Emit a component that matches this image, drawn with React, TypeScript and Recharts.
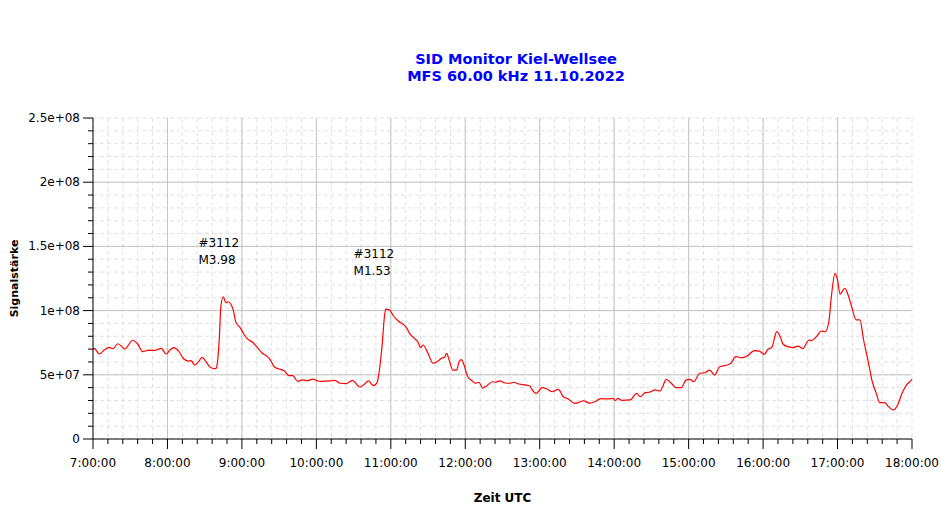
import { CartesianGrid, Label, Line, LineChart, ReferenceDot, XAxis, YAxis } from 'recharts';

// Time in minutes since midnight (UTC), signal in units of 1e6
const times = [
  420, 421, 425, 429, 433, 436, 440, 446, 448, 452,
  456, 460, 464, 470, 475, 479, 482, 485, 489, 493,
  497, 499, 502, 505, 508, 511, 515, 519, 520, 522,
  523, 525, 527, 529, 531, 533, 535, 539, 542, 545,
  549, 553, 556, 560, 563, 566, 570, 574, 578, 581,
  585, 589, 593, 597, 601, 603, 611, 615, 619, 624,
  629, 635, 638, 642, 646, 649, 650, 653, 655, 656,
  659, 662, 666, 673, 675, 679, 682, 684, 686, 690,
  694, 698, 702, 703, 705, 707, 710, 713, 715, 717,
  719, 722, 725, 728, 731, 734, 737, 742, 744, 748,
  752, 756, 759, 763, 768, 772, 774, 777, 782, 786,
  790, 795, 799, 803, 808, 811, 815, 820, 824, 829,
  835, 839, 841, 843, 846, 853, 858, 861, 865, 869,
  873, 877, 879, 882, 886, 890, 894, 898, 901, 904,
  909, 913, 917, 921, 925, 931, 934, 938, 943, 947,
  953, 957, 961, 964, 967, 971, 974, 976, 980, 984,
  988, 992, 997, 999, 1003, 1007, 1010, 1013, 1015, 1018,
  1020, 1022, 1026, 1028, 1031, 1035, 1038, 1041, 1045, 1048,
  1051, 1054, 1058, 1061, 1065, 1068, 1072, 1075, 1079, 1080,
];

const signal = [
  70, 70.6, 66.2, 69.3, 71.4, 70.3, 74.2, 70.1, 72.4, 76.9,
  74.0, 68.0, 69.1, 69.1, 70.6, 66.2, 69.3, 71.1, 68.5, 62.5,
  60.7, 61.0, 57.6, 60.2, 63.6, 60.2, 55.5, 54.8, 57.6, 82.3,
  103.0, 110.8, 106.2, 106.9, 105.1, 100.5, 91.4, 86.2, 81.0, 77.6,
  75.0, 70.6, 67.2, 64.6, 61.5, 56.3, 54.5, 53.2, 49.3, 49.3,
  44.9, 46.0, 45.4, 46.7, 45.2, 44.9, 45.2, 45.7, 43.4, 43.1,
  45.7, 40.5, 42.1, 45.2, 41.5, 44.2, 48.5, 73.2, 96.6, 101.2,
  100.5, 96.0, 91.9, 86.2, 82.3, 78.4, 75.3, 71.1, 73.2, 66.7,
  59.0, 60.7, 63.3, 63.3, 66.7, 61.5, 53.7, 53.7, 60.2, 61.8,
  57.6, 48.5, 45.7, 43.4, 44.2, 39.7, 41.3, 44.6, 44.2, 45.2,
  43.6, 43.4, 44.2, 42.8, 42.1, 41.3, 38.2, 35.3, 40.0, 38.9,
  36.8, 38.7, 32.9, 31.2, 27.8, 28.3, 29.8, 28.0, 28.8, 31.4,
  31.2, 31.7, 29.8, 31.7, 30.1, 30.4, 35.6, 32.9, 36.1, 36.6,
  38.2, 37.4, 40.7, 46.5, 43.4, 40.0, 40.0, 46.0, 46.5, 44.6,
  51.2, 51.6, 53.7, 49.8, 56.3, 57.6, 59.0, 64.1, 63.3, 64.6,
  68.8, 68.5, 65.9, 69.9, 71.4, 83.6, 79.2, 74.0, 71.9, 71.1,
  72.4, 70.6, 77.1, 76.6, 79.7, 84.1, 83.6, 91.4, 110.8, 129.0,
  123.8, 112.9, 117.4, 113.5, 104.4, 92.7, 92.7, 77.1, 59.0, 44.6,
  36.1, 28.3, 28.3, 25.2, 22.6, 25.7, 35.6, 41.3, 45.4, 46.5,
];

// flare annotations: time of label, level of first text line
const flareTimes = [505, 630];
const flareLevels = [153, 144];
const flareIds = ['#3112', '#3112'];
const flareClasses = ['M3.98', 'M1.53'];

const timeTicks = Array.from({ length: 56 }, (_, i) => 420 + i * 12);
const levelTicks = Array.from({ length: 26 }, (_, i) => i * 10);
const majorLevels = [50, 100, 150, 200];
const majorTimes = [480, 540, 600, 660, 720, 780, 840, 900, 960, 1020];

const FONT = '"DejaVu Sans", sans-serif';

const data = times.map((t, i) => ({ t, v: signal[i] }));

function fmtTime(m: number) {
  return `${Math.floor(m / 60)}:${String(m % 60).padStart(2, '0')}:00`;
}

function fmtLevel(v: number) {
  if (v === 0) return '0';
  return (v * 1e6).toExponential().replace(/e\+(\d)$/, 'e+0$1');
}

function TimeTick({ x, y, payload }: any) {
  const major = payload.value % 60 === 0;
  return (
    <g>
      <line x1={x} x2={x} y1={y} y2={y + (major ? 10 : 5)} stroke="#000" />
      {major && (
        <text x={x} y={y + 28} textAnchor="middle" fontSize={12} fontFamily={FONT} fill="#000">
          {fmtTime(payload.value)}
        </text>
      )}
    </g>
  );
}

function LevelTick({ x, y, payload }: any) {
  const major = payload.value % 50 === 0;
  return (
    <g>
      <line x1={x - (major ? 10 : 5)} x2={x} y1={y} y2={y} stroke="#000" />
      {major && (
        <text x={x - 13} y={y + 4} textAnchor="end" fontSize={12} fontFamily={FONT} fill="#000">
          {fmtLevel(payload.value)}
        </text>
      )}
    </g>
  );
}

export default function App() {
  return (
    <div style={{ position: 'relative', width: 933, height: 499 }}>
      <style>{'body { margin: 8px 0 8px 8px; } svg.recharts-surface { overflow: visible; }'}</style>
      <div
        style={{
          position: 'absolute',
          left: 308,
          top: 43,
          width: 400,
          textAlign: 'center',
          color: '#0000ff',
          fontFamily: FONT,
          fontWeight: 'bold',
          fontSize: 14.5,
          lineHeight: '17px',
        }}
      >
        SID Monitor Kiel-Wellsee
        <br />
        MFS 60.00 kHz 11.10.2022
      </div>
      <LineChart width={933} height={499} data={data} margin={{ top: 110, right: 29, bottom: 0, left: 0 }}>
        <CartesianGrid stroke="#e0e0e0" strokeDasharray="4 3" />
        <CartesianGrid stroke="#c4c4c4" horizontalValues={majorLevels} verticalValues={majorTimes} />
        <XAxis
          dataKey="t"
          type="number"
          domain={[420, 1080]}
          ticks={timeTicks}
          interval={0}
          tickSize={0}
          tickMargin={0}
          tickLine={false}
          tick={<TimeTick />}
          stroke="#000"
          height={68}
        >
          <Label value="Zeit UTC" position="insideBottom" offset={5} fontSize={12} fontWeight="bold" fontFamily={FONT} fill="#000" />
        </XAxis>
        <YAxis
          type="number"
          domain={[0, 250]}
          ticks={levelTicks}
          interval={0}
          tickSize={0}
          tickMargin={0}
          tickLine={false}
          tick={<LevelTick />}
          stroke="#000"
          width={85}
        >
          <Label
            content={({ viewBox }: any) => {
              const cx = viewBox.x + 6;
              const cy = viewBox.y + viewBox.height / 2;
              return (
                <text
                  x={cx}
                  y={cy}
                  transform={`rotate(-90, ${cx}, ${cy})`}
                  textAnchor="middle"
                  dominantBaseline="central"
                  fontSize={11}
                  fontWeight="bold"
                  fontFamily={FONT}
                  fill="#000"
                >
                  Signalstärke
                </text>
              );
            }}
          />
        </YAxis>
        <Line
          type="monotone"
          dataKey="v"
          stroke="#ff0000"
          strokeWidth={1.2}
          dot={false}
          isAnimationActive={false}
        />
        {flareTimes.map((t, i) => (
          <ReferenceDot
            key={i}
            x={t}
            y={flareLevels[i]}
            r={1}
            shape={(p: any) => (
              <text x={p.cx} y={p.cy} fontSize={12} fontFamily={FONT} fill="#000">
                <tspan x={p.cx} dy="0.35em">{flareIds[i]}</tspan>
                <tspan x={p.cx} dy="17">{flareClasses[i]}</tspan>
              </text>
            )}
          />
        ))}
      </LineChart>
    </div>
  );
}
